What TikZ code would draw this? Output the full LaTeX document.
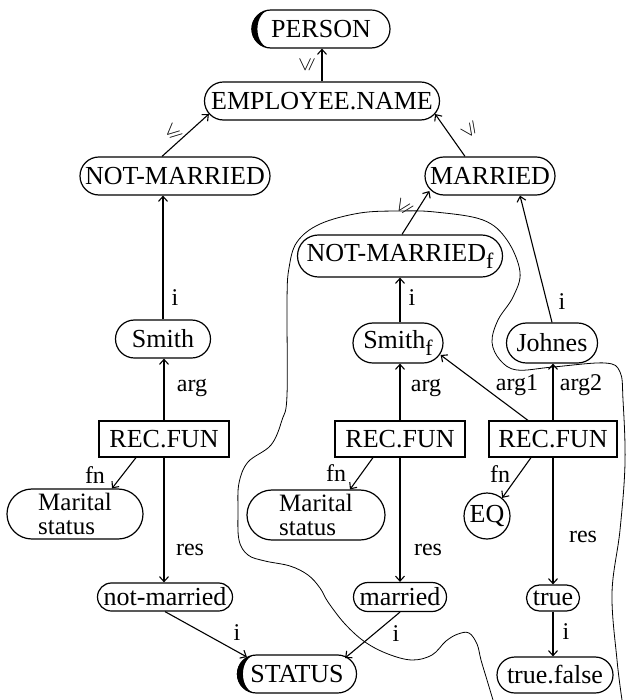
\documentclass[tikz,border=0pt]{standalone}
\usepackage{amssymb}
\usepackage{fontspec}
\setmainfont{Liberation Serif}
\usetikzlibrary{arrows.meta}
\newcommand{\fsub}{\raisebox{-7pt}{\fontsize{22}{22}\selectfont f}}
\begin{document}
\begin{tikzpicture}[x=1pt,y=-1pt,
  every node/.style={font=\fontsize{26}{28}\selectfont, inner sep=0pt},
  pill/.style 2 args={draw, line width=1.2pt, rectangle,
    minimum width=#1pt, minimum height=#2pt, rounded corners={(#2/2-0.05)*1pt}},
  recbox/.style={draw, line width=1.2pt, rectangle, minimum width=#1pt, minimum height=36pt},
  twoline/.style={align=left, font=\fontsize{25}{23.5}\selectfont},
  arr/.style={-{Straight Barb[length=5pt,width=9pt]}, line width=1.1pt},
  lbl/.style={font=\fontsize{24}{26}\selectfont},
  ord/.style={font=\fontsize{20}{20}\selectfont},
  region/.style={line width=0.8pt}]
\useasboundingbox (0,0) rectangle (625,700);

% concept nodes
\node[pill={138}{38}] (person) at (321,29) {PERSON};
\node[pill={235}{38}] (emp) at (322,101) {EMPLOYEE.NAME};
\node[pill={190}{38}] (nm) at (175,176) {NOT-MARRIED};
\node[pill={130}{38}] (mar) at (490,176) {MARRIED};
\node[pill={205}{42}] (nmf) at (400,256) {NOT-MARRIED\fsub};
\node[pill={95}{38}] (smith) at (163,339) {Smith};
\node[pill={90}{40}] (smithf) at (398,343) {Smith\fsub};
\node[pill={91}{40}] (johnes) at (552,343) {Johnes};
\node[recbox=130] (rf1) at (164,439) {REC.FUN};
\node[recbox=130] (rf2) at (400,439) {REC.FUN};
\node[recbox=128] (rf3) at (553,439) {REC.FUN};
\node[pill={136}{50}, twoline] (ms1) at (75,514) {Marital\\status};
\node[pill={138}{50}, twoline] (ms2) at (316,515) {Marital\\status};
\node[draw, circle, minimum size=46pt, line width=1.2pt] (eq) at (487,516) {EQ};
\node[pill={135}{28}] (notm) at (165,597) {not-married};
\node[pill={93}{29}] (marr) at (400,597) {married};
\node[pill={53}{26}] (tru) at (553,598) {true};
\node[pill={116}{36}] (tf) at (555,675) {true.false};
\node[pill={119}{38}] (status) at (297,674) {STATUS};

% black caps on the left ends
\fill ([xshift=19pt,yshift=19pt]person.west) arc[start angle=90,end angle=270,radius=19pt]
  arc[start angle=270,end angle=90,x radius=13pt,y radius=19pt] -- cycle;
\fill ([xshift=19pt,yshift=19pt]status.west) arc[start angle=90,end angle=270,radius=19pt]
  arc[start angle=270,end angle=90,x radius=13pt,y radius=19pt] -- cycle;

% subsumption links
\draw[arr] (emp.north) -- (emp.north |- person.south)
  node[ord, rotate=90] at (307,65) {$\leqslant$};
\draw[arr] ([xshift=-13pt]nm.north) -- ([xshift=5pt,yshift=-13pt]emp.west)
  node[ord, rotate=42] at (173,133) {$\leqslant$};
\draw[arr] ([xshift=-25pt]mar.north) -- ([xshift=-5pt,yshift=-13pt]emp.east)
  node[ord, rotate=125] at (470,130) {$\leqslant$};
\draw[arr] ([xshift=2pt]nmf.north) -- ([xshift=5pt,yshift=-15pt]mar.west)
  node[ord, rotate=57] at (404,207) {$\leqslant$};

% left column
\draw[arr] (smith.north) -- (smith.north |- nm.south) node[lbl] at (175,298) {i};
\draw[arr] (rf1.north) -- (rf1.north |- smith.south) node[lbl] at (192,388) {arg};
\draw[arr] ([xshift=-28pt]rf1.south) -- ([xshift=37pt]ms1.north) node[lbl] at (95,475) {fn};
\draw[arr] (rf1.south) -- (rf1.south |- notm.north) node[lbl] at (190,550) {res};
\draw[arr] (notm.south) -- ([xshift=10pt,yshift=17pt]status.west) node[lbl] at (237,633) {i};

% middle column
\draw[arr] (marr.south) -- ([xshift=-12pt,yshift=16pt]status.east) node[lbl] at (396,634) {i};
\draw[arr] (rf2.north) -- (rf2.north |- smithf.south) node[lbl] at (426,388) {arg};
\draw[arr] (smithf.north -| nmf) -- (nmf.south) node[lbl] at (412,298) {i};
\draw[arr] ([xshift=-27pt]rf2.south) -- ([xshift=34pt]ms2.north) node[lbl] at (336,473) {fn};
\draw[arr] (rf2.south) -- (rf2.south |- marr.north) node[lbl] at (428,550) {res};

% right column
\draw[arr] ([xshift=-25pt]rf3.north) -- ([xshift=-3pt,yshift=-12pt]smithf.east) node[lbl] at (517,385) {arg1};
\draw[arr] (rf3.north) -- (rf3.north |- johnes.south) node[lbl] at (581,385) {arg2};
\draw[arr] (johnes.north) -- ([xshift=30pt]mar.south) node[lbl] at (562,302) {i};
\draw[arr] ([xshift=-22pt]rf3.south) -- (eq.50) node[lbl] at (500,474) {fn};
\draw[arr] (rf3.south) -- (rf3.south |- tru.north) node[lbl] at (583,537) {res};
\draw[arr] (tru.south) -- (tru.south |- tf.north) node[lbl] at (566,632) {i};

% freehand boundary of the fact region
\draw[region] plot[smooth, tension=0.6] coordinates {
  (493,700) (487,680) (481,660) (477,644) (469,633) (458,634) (446,641)
  (432,655) (412,660) (388,654) (365,642) (345,624) (328,602) (320,588)
  (308,575) (290,566) (265,561) (248,555) (239,540) (238,510) (239,483)
  (248,462) (271,445) (282,420) (287,395) (287,300) (289,268) (297,242)
  (320,224) (360,213) (400,211) (435,212) (483,220) (507,240) (520,272)
  (513,297) (498,320) (492,342) (500,360) (517,370) (553,367) (605,363)
  (620,372) (623,400) (625,463) (620,530) (612,593) (617,660) (622,700)};
\end{tikzpicture}
\end{document}
